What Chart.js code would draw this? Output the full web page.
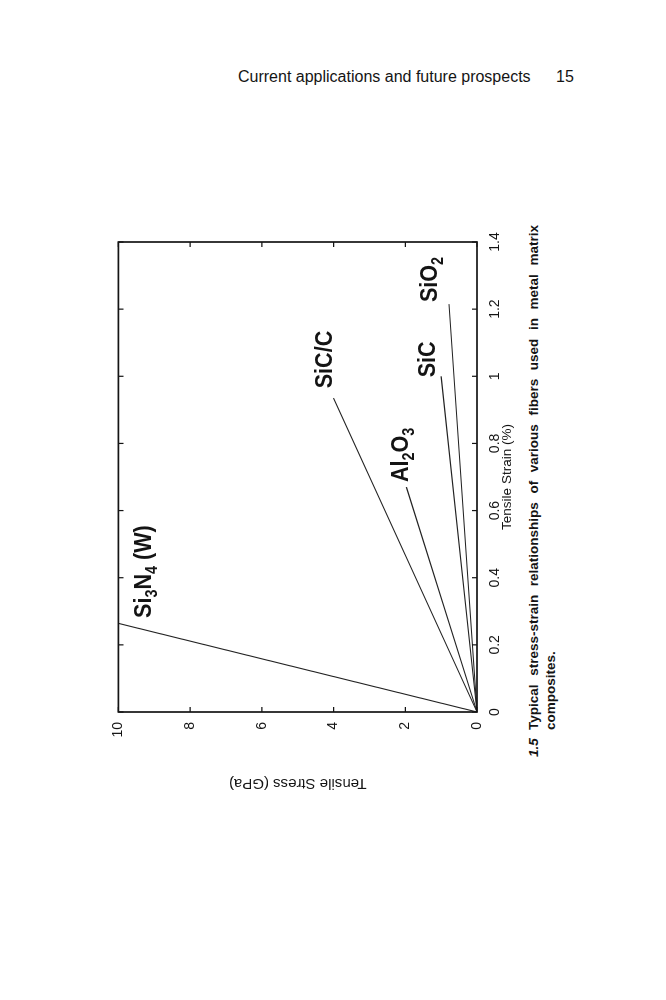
<!DOCTYPE html>
<html>
<head>
<meta charset="utf-8">
<title>Stress-strain of fibers</title>
<script src="https://cdn.jsdelivr.net/npm/chart.js@4.4.1/dist/chart.umd.min.js"></script>
<style>
  html, body { margin: 0; padding: 0; background: #fff; }
  body { width: 666px; height: 1000px; position: relative; overflow: hidden;
         font-family: "Liberation Sans", Arial, sans-serif; color: #141414; }
  .head { position: absolute; top: 68px; font-size: 16px; line-height: 18px; }
  /* the whole figure is printed sideways on the page */
  #rot { position: absolute; left: 100px; top: 800px; width: 600px; height: 480px;
         transform-origin: 0 0; transform: rotate(-90deg); }
  #wrap { position: absolute; left: 0; top: 0; width: 600px; height: 420px; }
  .cap { position: absolute; font-size: 13.5px; line-height: 17px; font-weight: bold; }
  #capnum { left: 43px; top: 425px; font-style: italic; }
  #captext { left: 70px; top: 425px; width: 505px; text-align: justify; }
</style>
</head>
<body>
<div class="head" style="left:238px">Current applications and future prospects</div>
<div class="head" style="left:556px">15</div>

<div id="rot">
  <div id="wrap"><canvas id="chart"></canvas></div>
  <div class="cap" id="capnum">1.5</div>
  <div class="cap" id="captext">Typical stress-strain relationships of various fibers used in metal matrix composites.</div>
</div>

<script>
// fibre data: each line runs from the origin to failure
const materials = ['Si3N4 (W)', 'SiC/C', 'Al2O3', 'SiC', 'SiO2'];
const failureStrain = [0.264, 0.935, 0.67, 1.0, 1.215];   // %
const failureStress = [10.0, 4.0, 1.97, 1.0, 0.78];      // GPa

const strainTicks = ['0', '0.2', '0.4', '0.6', '0.8', '1', '1.2', '1.4'];
const stressTicks = ['0', '2', '4', '6', '8', '10'];

// where each name is written (strain, stress at start of its baseline)
const labelStrain = [0.28, 0.964, 0.685, 0.997, 1.221];
const labelStress = [9.09, 4.04, 1.92, 1.16, 1.11];
// name pieces, [text, isSubscript]
const labelParts = [
  [['Si'], ['3', 1], ['N'], ['4', 1], [' (W)']],
  [['SiC/C']],
  [['Al'], ['2', 1], ['O'], ['3', 1]],
  [['SiC']],
  [['SiO'], ['2', 1]]
];

const ink = '#141414';
const FONT = '"Liberation Sans", Arial, sans-serif';

const datasets = materials.map((m, i) => ({
  label: m,
  data: [{x: 0, y: 0}, {x: failureStrain[i], y: failureStress[i]}],
  showLine: true,
  borderColor: '#222',
  borderWidth: 1.1,
  pointRadius: 0,
  fill: false
}));

// box round the plot with inward ticks on all four sides
const frame = {
  id: 'frame',
  afterDatasetsDraw(chart) {
    const {ctx, chartArea: a, scales: {x, y}} = chart;
    ctx.save();
    ctx.strokeStyle = ink;
    ctx.lineWidth = 1.2;
    ctx.beginPath();
    x.ticks.forEach(t => {
      const px = x.getPixelForValue(t.value);
      ctx.moveTo(px, a.bottom); ctx.lineTo(px, a.bottom - 5);
      ctx.moveTo(px, a.top); ctx.lineTo(px, a.top + 5);
    });
    y.ticks.forEach(t => {
      const py = y.getPixelForValue(t.value);
      ctx.moveTo(a.left, py); ctx.lineTo(a.left + 5, py);
      ctx.moveTo(a.right, py); ctx.lineTo(a.right - 5, py);
    });
    ctx.stroke();
    ctx.lineWidth = 1.7;
    ctx.strokeRect(a.left, a.top, a.right - a.left, a.bottom - a.top);
    ctx.restore();
  }
};

const names = {
  id: 'names',
  afterDatasetsDraw(chart) {
    const {ctx, scales: {x, y}} = chart;
    ctx.save();
    ctx.fillStyle = ink;
    ctx.textBaseline = 'alphabetic';
    labelParts.forEach((parts, i) => {
      ctx.save();
      ctx.translate(x.getPixelForValue(labelStrain[i]), y.getPixelForValue(labelStress[i]));
      ctx.scale(0.9, 1);
      let cx = 0;
      parts.forEach(([t, sub]) => {
        ctx.font = 'bold ' + (sub ? 16 : 24) + 'px ' + FONT;
        ctx.fillText(t, cx, sub ? 6 : 0);
        cx += ctx.measureText(t).width;
      });
      ctx.restore();
    });
    ctx.restore();
  }
};

new Chart(document.getElementById('chart'), {
  type: 'scatter',
  data: {datasets},
  options: {
    responsive: true,
    maintainAspectRatio: false,
    animation: false,
    layout: {padding: {left: 0, top: 18, right: 42, bottom: 0}},
    plugins: {legend: {display: false}, tooltip: {enabled: false}},
    scales: {
      x: {
        type: 'linear', min: 0, max: 1.4,
        grid: {display: false, drawTicks: false},
        border: {display: false},
        ticks: {
          stepSize: 0.2, padding: 10, color: ink, maxRotation: 0,
          font: {family: FONT, size: 14},
          callback: (v, i) => strainTicks[i]
        },
        title: {display: true, text: 'Tensile Strain (%)', color: ink,
                font: {family: FONT, size: 13.5}, padding: {top: 0, bottom: 5}},
        afterFit: s => { s.height = 43; }
      },
      y: {
        type: 'linear', min: 0, max: 10,
        grid: {display: false, drawTicks: false},
        border: {display: false},
        ticks: {
          stepSize: 2, padding: 10, color: ink,
          font: {family: FONT, size: 14},
          callback: (v, i) => stressTicks[i]
        },
        title: {display: true, text: 'Tensile Stress (GPa)', color: ink,
                font: {family: FONT, size: 15}, padding: {top: 8, bottom: 0}},
        afterFit: s => { s.width = 88; }
      }
    }
  },
  plugins: [frame, names]
});
</script>
</body>
</html>
